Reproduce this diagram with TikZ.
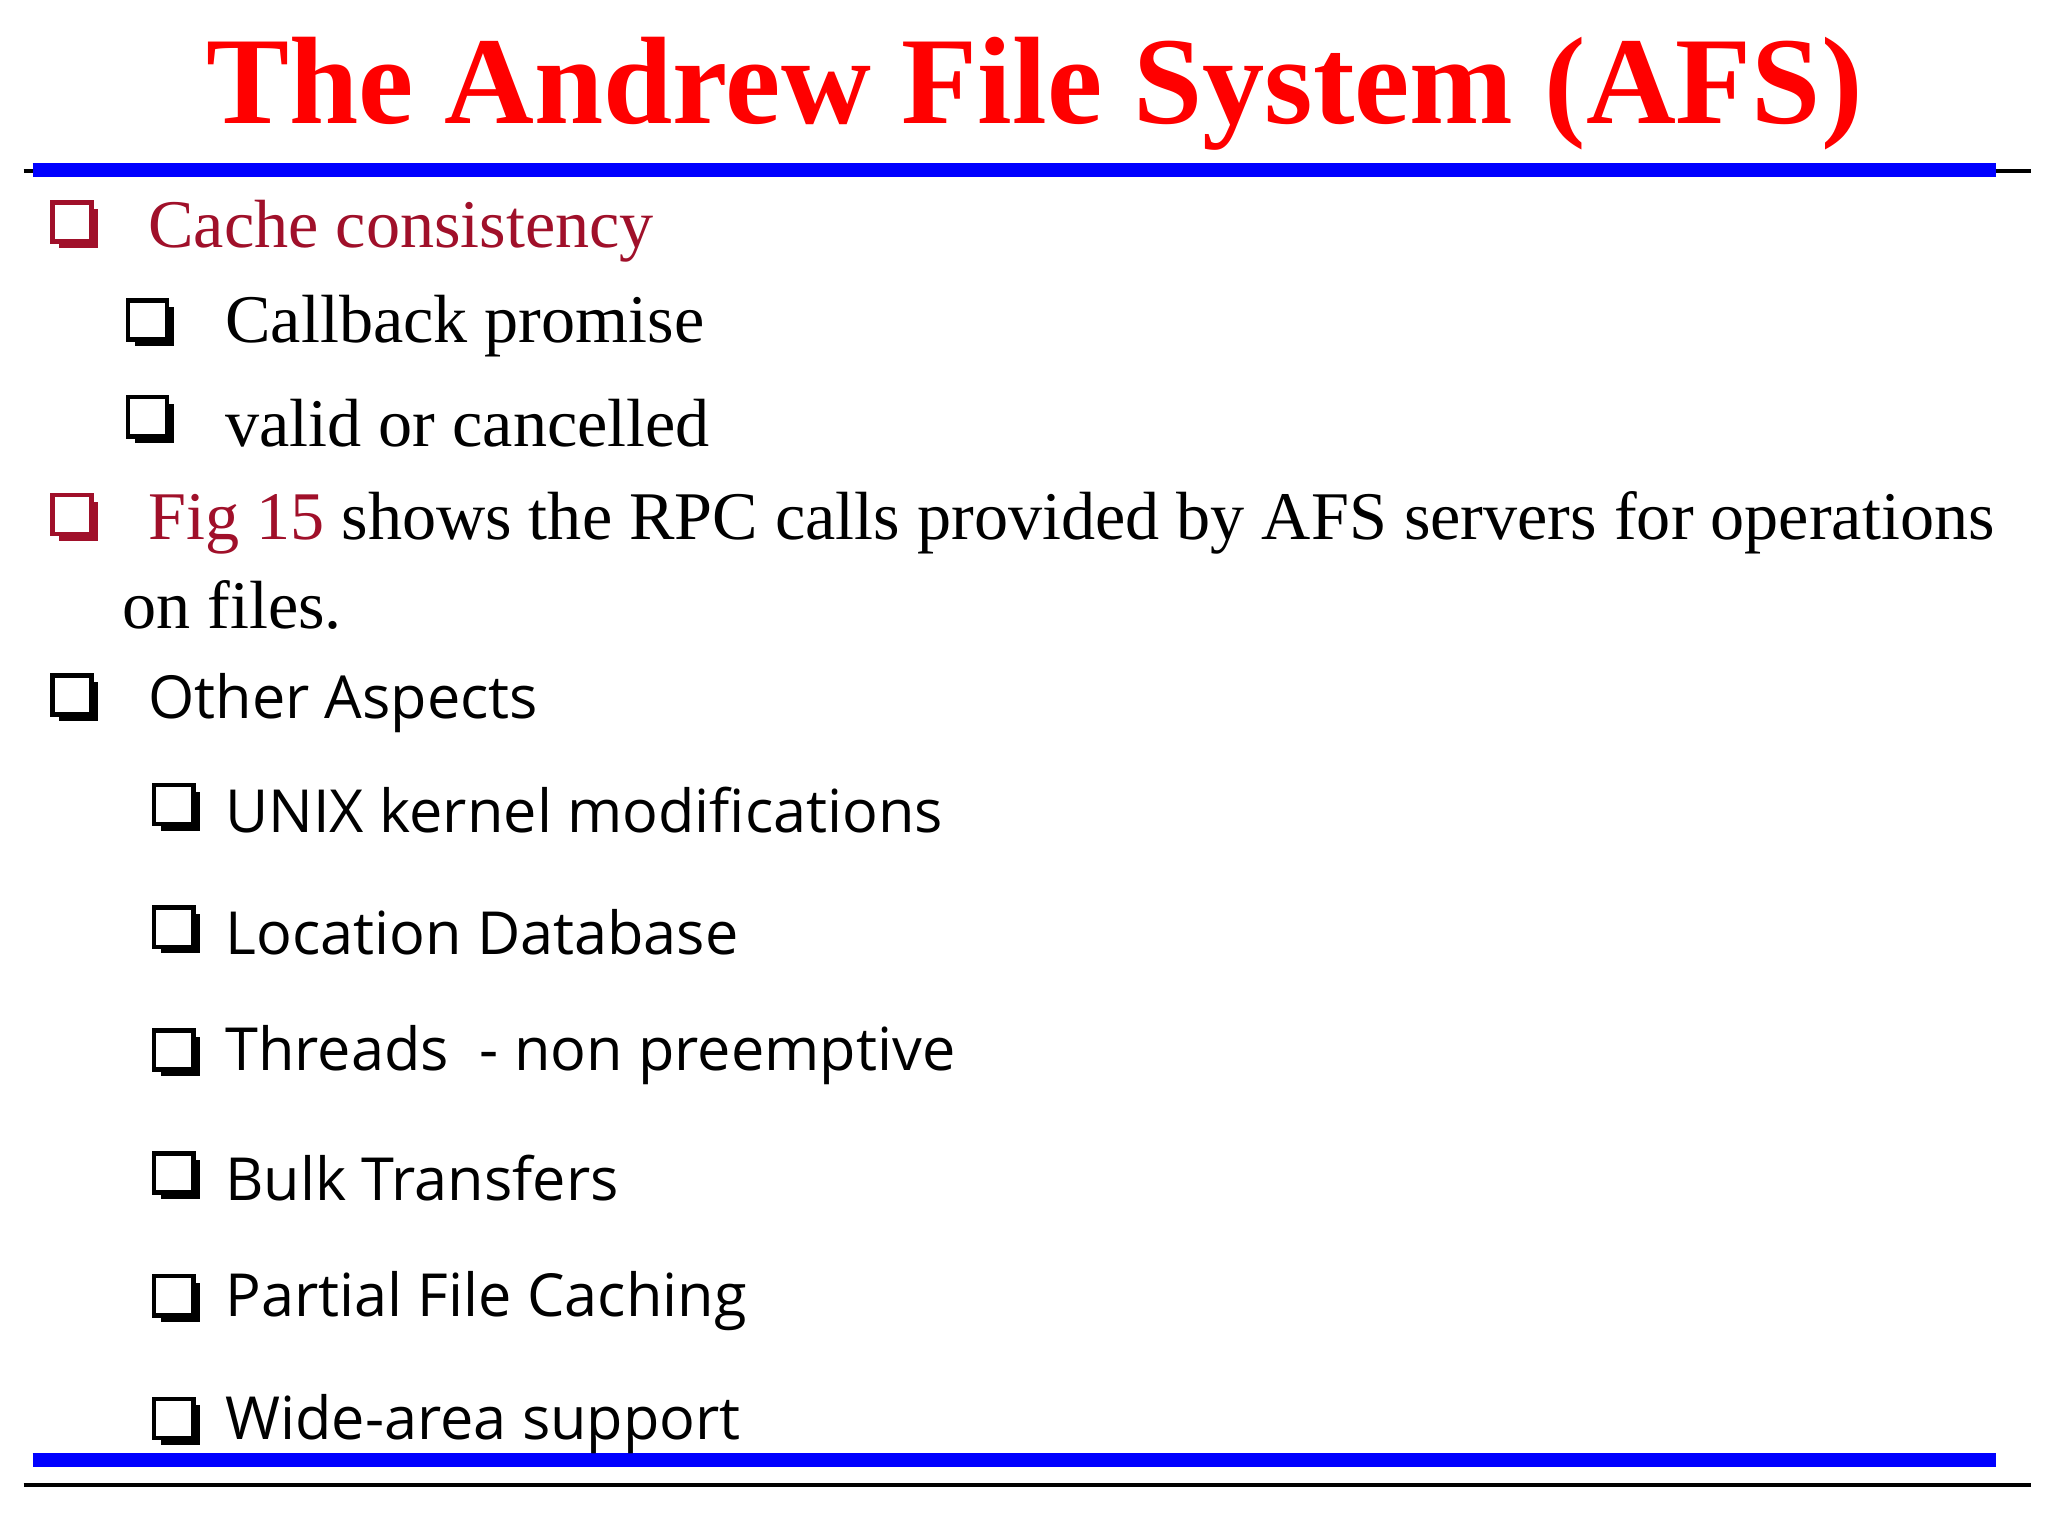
\documentclass[tikz,border=0pt]{standalone}
\usepackage{fontspec}
\setmainfont{Liberation Serif}
\newfontfamily\osans{Open Sans}
\definecolor{dred}{HTML}{A0102A}
\definecolor{tred}{HTML}{FF0000}
\definecolor{lblue}{HTML}{0000FF}
\begin{document}
\begin{tikzpicture}[x=0.01306cm,y=-0.01306cm,
  txt/.style={anchor=west,inner sep=0pt,font=\fontsize{19.4}{23}\selectfont},
  stxt/.style={anchor=west,inner sep=0pt,font=\osans\fontsize{16.9}{20}\selectfont}]
\useasboundingbox (0,0) rectangle (1568,1176);
\fill[white] (0,0) rectangle (1568,1176);
\newcommand\qbox[3]{%
  \fill[#3] (#1+5,#2-12) rectangle (#1+35,#2+18);
  \filldraw[draw=#3,fill=white,line width=1.3pt] (#1,#2-17) rectangle (#1+30,#2+13);}
\node[inner sep=0pt,text=tred,font=\bfseries\fontsize{35.4}{40}\selectfont] (title) at (792,72) {The Andrew File System (AFS)};
\draw[line width=1.2pt] (18,131) -- (1555,131);
\draw[lblue,line width=4pt] (25,130) -- (1528,130);
\draw[line width=1.2pt] (18,1137) -- (1555,1137);
\draw[lblue,line width=4pt] (25,1118) -- (1528,1118);
\qbox{40}{172}{dred}
\node[txt,text=dred] (a) at (113,177) {Cache consistency};
\qbox{98}{247}{black}
\node[txt] (b) at (172,250) {Callback promise};
\qbox{98}{321}{black}
\node[txt] (c) at (172,324) {valid or cancelled};
\qbox{40}{396}{dred}
\node[txt] (d) at (113,400) {\textcolor{dred}{Fig 15} shows the RPC calls provided by AFS servers for operations};
\node[txt] (d2) at (93,463) {on files.};
\qbox{40}{534}{black}
\node[stxt] (e) at (113,538) {Other Aspects};
\foreach \y/\t in {620/UNIX kernel modifications,714/Location Database,808/Threads\ \ - non preemptive,902/Bulk Transfers,996/Partial File Caching,1090/Wide-area support}{
  \qbox{118}{\y-2}{black}
  \node[stxt] at (172,\y) {\t};
}
\end{tikzpicture}
\end{document}
